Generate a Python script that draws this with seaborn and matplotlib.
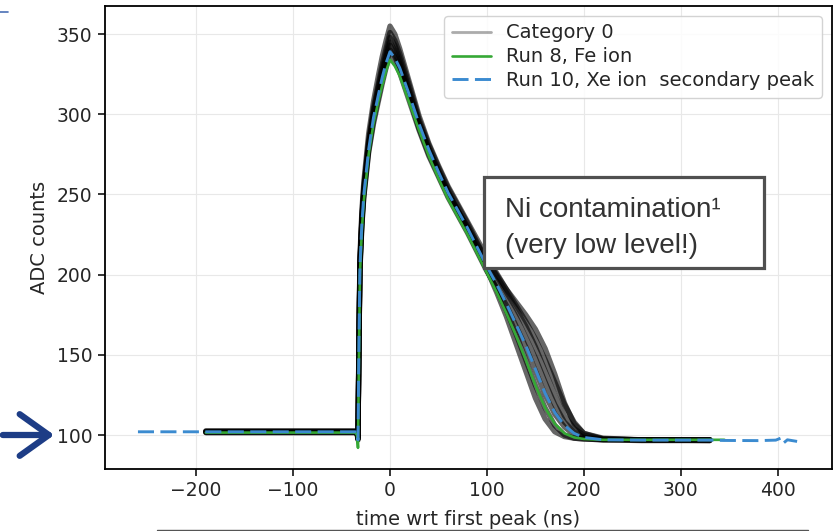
import matplotlib
matplotlib.use("Agg")
import matplotlib.pyplot as plt
import seaborn as sns
import pandas as pd
from matplotlib.patches import Rectangle, FancyArrowPatch
from matplotlib.lines import Line2D

# ---------------- data ----------------
time_ns = [-190, -100, -36, -34, -33, -32, -31, -29, -27, -22, -17, -12, -8, -4, 0,
           5, 10, 20, 30, 40, 50, 60, 70, 80, 90, 100,
           110, 120, 130, 140, 150, 160, 170, 180, 190, 200, 220, 260, 330]

cat0_a = [102.5, 102.5, 102.5, 102, 99, 165, 212, 240, 258, 288, 308, 324, 336, 346, 355,
          350, 341, 320, 299, 282, 268, 255, 244, 233, 222, 211,
          201, 191, 183, 175, 166, 154, 138, 120, 107, 101, 97.5, 97, 97]
cat0_b = [102, 102, 102, 101.5, 98, 162, 209, 237, 255, 284, 304, 319, 331, 341, 351,
          346, 338, 318, 297, 281, 267, 254, 243, 232, 220, 209,
          199, 189, 179, 168, 155, 140, 125, 112, 104, 100, 97.5, 97, 97]
cat0_c = [102.5, 102.5, 102.5, 102, 99, 160, 207, 235, 253, 282, 302, 317, 328, 338, 348,
          343, 335, 315, 295, 279, 265, 252, 240, 228, 216, 203,
          189, 174, 157, 140, 123, 110, 102, 99, 98, 97.5, 97, 97, 97]
cat0_d = [102, 102, 102, 101.5, 98, 158, 206, 234, 252, 281, 300, 315, 326, 336, 345,
          340, 332, 313, 294, 278, 264, 251, 240, 229, 217, 205,
          196, 185, 174, 161, 148, 133, 119, 108, 102, 98.5, 97.5, 97, 97]
cat0_e = [101.5, 101.5, 101.5, 101, 97, 157, 205, 233, 251, 279, 298, 313, 324, 334, 343,
          338, 330, 311, 292, 277, 263, 250, 240, 230, 219, 209,
          200, 191, 181, 171, 160, 147, 133, 119, 108, 101, 98, 97, 97]
cat0_f = [102, 102, 102, 101.5, 98, 156, 203, 231, 249, 277, 296, 310, 321, 331, 340,
          336, 329, 310, 291, 275, 262, 249, 238, 227, 215, 203,
          191, 178, 163, 147, 131, 117, 106, 100, 98, 97.5, 97, 97, 96.5]
cat0_g = [101.5, 101.5, 101.5, 101, 97, 155, 202, 230, 248, 276, 294, 308, 319, 329, 337,
          333, 326, 308, 290, 274, 261, 248, 237, 226, 214, 202,
          192, 181, 168, 155, 140, 125, 113, 105, 100, 98, 97, 96.5, 96.5]
cat0_traces = [cat0_a, cat0_b, cat0_c, cat0_d, cat0_e, cat0_f, cat0_g]

run8_time = time_ns + [345]
run8_fe = [101.5, 101.5, 101.5, 100, 92, 150, 200, 228, 246, 275, 294, 308, 318, 327, 334,
           330, 324, 307, 290, 274, 260, 247, 236, 225, 213, 201,
           189, 176, 162, 147, 131, 117, 107, 101, 98.5, 97.5, 97, 97, 97, 97]

run10_time = [-260] + time_ns + [345, 380, 398, 403, 406, 410, 420]
run10_xe = [102,
            102, 102, 102, 101.5, 97, 160, 205, 232, 250, 278, 298, 312, 323, 332, 339,
            335, 329, 312, 294, 278, 264, 251, 240, 229, 217, 205,
            194, 182, 169, 156, 141, 126, 114, 106, 101, 98.5, 97, 96.8, 96.8,
            96.6, 96.5, 96.8, 98, 95, 97, 96]

x_ticks = [-200, -100, 0, 100, 200, 300, 400]
y_ticks = [100, 150, 200, 250, 300, 350]
series_labels = ["Category 0", "Run 8, Fe ion", "Run 10, Xe ion  secondary peak"]
x_label = "time wrt first peak (ns)"
y_label = "ADC counts"
note_lines = ["Ni contamination\u00b9", "(very low level!)"]

# ---------------- style ----------------
sns.set_style("whitegrid", {
    "axes.edgecolor": "black",
    "grid.color": "#e8e8e8",
    "xtick.bottom": True,
    "ytick.left": True,
})
plt.rcParams["font.family"] = ["DejaVu Sans"]

W, H = 839, 531
fig = plt.figure(figsize=(W / 100, H / 100), dpi=100)
ax = fig.add_axes([105 / W, 1 - 469 / H, (832 - 105) / W, (469 - 6) / H])

# Category 0 traces
for i, tr in enumerate(cat0_traces):
    df = pd.DataFrame({"t": time_ns, "adc": tr})
    sns.lineplot(data=df, x="t", y="adc", ax=ax, color="black", alpha=0.6,
                 lw=3.8, estimator=None, sort=False,
                 label=series_labels[0] if i == 0 else None, legend=False)

df8 = pd.DataFrame({"t": run8_time, "adc": run8_fe})
sns.lineplot(data=df8, x="t", y="adc", ax=ax, color="#35a835", lw=1.9,
             estimator=None, sort=False, label=series_labels[1], legend=False)

df10 = pd.DataFrame({"t": run10_time, "adc": run10_xe})
sns.lineplot(data=df10, x="t", y="adc", ax=ax, color="#3b8bd0", lw=2.1,
             estimator=None, sort=False, label=series_labels[2], legend=False)
ax.lines[-1].set_linestyle((0, (5.5, 2.2)))

ax.set_xticks(x_ticks)
ax.set_yticks(y_ticks)
ax.set_xlim(-294, 456)
ax.set_ylim(78.8, 367.5)
ax.tick_params(axis="both", labelsize=13.5, length=5, width=1.1, color="black", pad=4)
ax.set_xlabel(x_label, fontsize=14, labelpad=7)
ax.set_ylabel(y_label, fontsize=14, labelpad=6)
for s in ax.spines.values():
    s.set_linewidth(1.3)
    s.set_color("black")
ax.grid(True, lw=0.8, color="#e8e8e8")

h, l = ax.get_legend_handles_labels()
order = [l.index(s) for s in series_labels]
leg = ax.legend([h[k] for k in order], [l[k] for k in order], loc="upper right",
                fontsize=14, labelspacing=0.25, framealpha=0.85,
                edgecolor="#cccccc", fancybox=True)
leg_lines = leg.get_lines()
leg_lines[0].set_alpha(0.33)
leg_lines[0].set_linewidth(2.0)

# annotation box
fig.add_artist(Rectangle((484 / W, 1 - 268 / H), 280 / W, 91 / H,
                         transform=fig.transFigure, facecolor="white",
                         edgecolor="#505050", lw=2.3, zorder=10))
fig.text(505 / W, 1 - 217 / H, note_lines[0], family="Liberation Sans",
         fontsize=20, color="#333333", va="baseline", ha="left", zorder=11)
fig.text(505 / W, 1 - 253 / H, note_lines[1], family="Liberation Sans",
         fontsize=20, color="#333333", va="baseline", ha="left", zorder=11)

# slide decorations: arrow pointing at baseline, underline, corner mark
fig.add_artist(FancyArrowPatch((0 / W, 1 - 435 / H), (57 / W, 1 - 435 / H),
                               transform=fig.transFigure,
                               arrowstyle="->,head_length=0.7,head_width=0.5",
                               mutation_scale=30, lw=4.5, color="#1d3d86",
                               zorder=12))
fig.add_artist(Line2D([157 / W, 808 / W], [1 - 530 / H, 1 - 530 / H],
                      transform=fig.transFigure, color="#555555", lw=1.0))
fig.add_artist(Line2D([0, 8 / W], [1 - 12 / H, 1 - 12 / H],
                      transform=fig.transFigure, color="#4a6fb5", lw=1.2))

fig.savefig("out.png", dpi=100)
